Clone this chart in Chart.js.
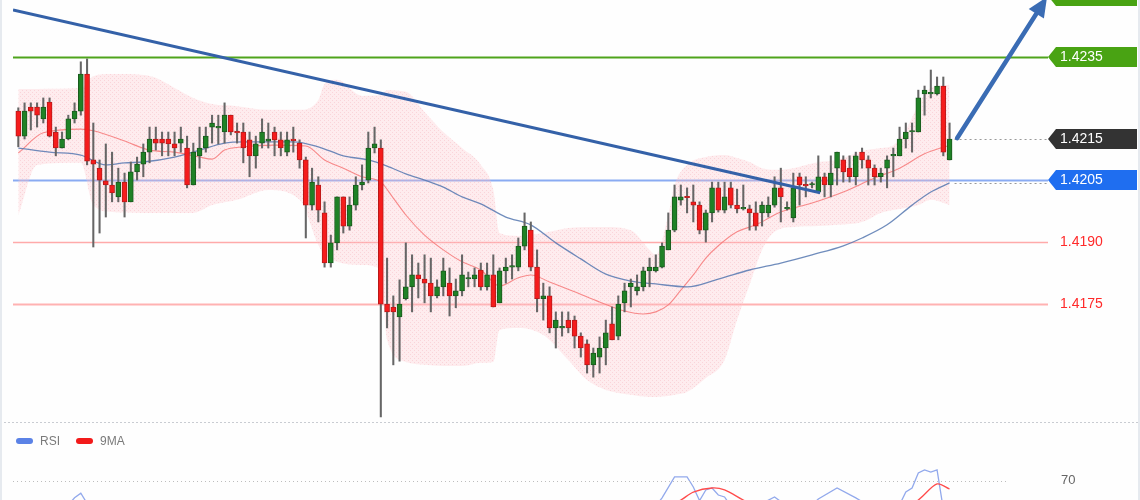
<!DOCTYPE html>
<html><head><meta charset="utf-8">
<script src="https://cdn.jsdelivr.net/npm/chart.js@4.4.1/dist/chart.umd.min.js"></script>
<style>
html,body{margin:0;padding:0;background:#fff;}
#wrap{position:relative;width:1140px;height:500px;overflow:hidden;background:#fefefe;}
#main{position:absolute;left:0;top:0;}
#rsi{position:absolute;left:0;top:423px;}
.edge{position:absolute;top:0;width:2px;height:500px;background:#e6eaef;}
</style></head><body>
<div id="wrap">
<canvas id="main" width="1140" height="423"></canvas>
<canvas id="rsi" width="1140" height="77"></canvas>
<div class="edge" style="left:0"></div><div class="edge" style="left:1138px"></div>
</div>
<script>
// ---- candle data (OHLC) ----
const opens = [1.42219,1.42158,1.42229,1.42229,1.42200,1.42241,1.42168,1.42129,1.42151,1.42200,
1.42219,1.42309,1.42100,1.42080,1.42049,1.42039,1.42010,1.42046,1.41998,1.42071,
1.42090,1.42119,1.42151,1.42151,1.42151,1.42139,1.42141,1.42129,1.42039,1.42110,
1.42129,1.42180,1.42178,1.42168,1.42209,1.42168,1.42168,1.42149,1.42110,1.42141,
1.42146,1.42168,1.42149,1.42119,1.42149,1.42141,1.42100,1.41990,1.42039,1.41971,
1.41849,1.41898,1.42010,1.41939,1.41990,1.42039,1.42051,1.42129,1.42129,1.41749,
1.41742,1.41718,1.41762,1.41791,1.41820,1.41810,1.41800,1.41769,1.41791,1.41800,
1.41769,1.41781,1.41810,1.41810,1.41832,1.41791,1.41820,1.41752,1.41830,1.41839,
1.41839,1.41890,1.41929,1.41839,1.41762,1.41769,1.41691,1.41691,1.41710,1.41710,
1.41671,1.41652,1.41601,1.41620,1.41642,1.41701,1.41671,1.41752,1.41791,1.41781,
1.41791,1.41830,1.41830,1.41839,1.41881,1.41929,1.42002,1.42010,1.41998,1.41990,
1.41929,1.41971,1.42032,1.41978,1.42032,1.41990,1.41981,1.41981,1.41971,1.41971,
1.41971,1.41990,1.42032,1.41981,1.41959,1.42059,1.42039,1.42039,1.42022,1.42059,
1.42039,1.42080,1.42100,1.42080,1.42059,1.42119,1.42100,1.42080,1.42059,1.42080,
1.42110,1.42110,1.42151,1.42168,1.42168,1.42261,1.42261,1.42261,1.42280,1.42100];
const highs = [1.42227,1.42239,1.42239,1.42239,1.42251,1.42251,1.42180,1.42168,1.42209,1.42239,
1.42339,1.42346,1.42190,1.42100,1.42139,1.42119,1.42080,1.42068,1.42095,1.42107,
1.42139,1.42180,1.42180,1.42168,1.42168,1.42168,1.42180,1.42158,1.42141,1.42180,
1.42180,1.42209,1.42209,1.42239,1.42209,1.42190,1.42190,1.42168,1.42158,1.42200,
1.42190,1.42180,1.42168,1.42168,1.42180,1.42149,1.42107,1.42080,1.42059,1.41998,
1.41917,1.42010,1.42010,1.42010,1.42059,1.42088,1.42168,1.42180,1.42149,1.41861,
1.41769,1.41808,1.41898,1.41869,1.41849,1.41869,1.41861,1.41808,1.41861,1.41837,
1.41810,1.41869,1.41827,1.41837,1.41849,1.41849,1.41869,1.41837,1.41861,1.41869,
1.41910,1.41971,1.41949,1.41881,1.41800,1.41791,1.41730,1.41730,1.41730,1.41720,
1.41679,1.41662,1.41642,1.41669,1.41710,1.41742,1.41769,1.41800,1.41810,1.41820,
1.41839,1.41861,1.41869,1.41898,1.41971,1.42039,1.42039,1.42032,1.42039,1.41998,
1.41978,1.42046,1.42046,1.42046,1.42046,1.42029,1.42039,1.41990,1.41998,1.41998,
1.42010,1.42059,1.42080,1.41998,1.42068,1.42068,1.42059,1.42046,1.42110,1.42068,
1.42110,1.42119,1.42110,1.42110,1.42119,1.42129,1.42110,1.42088,1.42080,1.42110,
1.42129,1.42180,1.42190,1.42190,1.42270,1.42280,1.42319,1.42302,1.42302,1.42190];
const lows = [1.42132,1.42151,1.42173,1.42180,1.42190,1.42156,1.42110,1.42129,1.42149,1.42190,
1.42209,1.42088,1.41888,1.41922,1.41961,1.41998,1.41998,1.41961,1.41998,1.42051,
1.42059,1.42093,1.42124,1.42110,1.42110,1.42110,1.42119,1.42032,1.42039,1.42080,
1.42119,1.42141,1.42139,1.42141,1.42161,1.42141,1.42093,1.42059,1.42080,1.42129,
1.42129,1.42110,1.42110,1.42110,1.42119,1.42080,1.41910,1.41978,1.41949,1.41839,
1.41839,1.41881,1.41922,1.41929,1.41978,1.42027,1.42044,1.42117,1.41474,1.41691,
1.41601,1.41610,1.41759,1.41730,1.41764,1.41752,1.41730,1.41764,1.41769,1.41720,
1.41740,1.41769,1.41791,1.41791,1.41783,1.41783,1.41742,1.41752,1.41800,1.41810,
1.41830,1.41881,1.41830,1.41730,1.41710,1.41679,1.41642,1.41671,1.41679,1.41642,
1.41620,1.41581,1.41571,1.41581,1.41601,1.41662,1.41662,1.41730,1.41742,1.41771,
1.41781,1.41791,1.41827,1.41837,1.41881,1.41925,1.41990,1.41971,1.41949,1.41920,
1.41900,1.41949,1.41973,1.41971,1.41983,1.41971,1.41978,1.41929,1.41929,1.41939,
1.41961,1.41985,1.41949,1.41978,1.41949,1.41990,1.42010,1.42032,1.42022,1.42010,
1.42010,1.42039,1.42046,1.42046,1.42039,1.42080,1.42039,1.42039,1.42046,1.42032,
1.42059,1.42110,1.42129,1.42119,1.42168,1.42209,1.42251,1.42258,1.42110,1.42100];
const closes = [1.42158,1.42219,1.42219,1.42209,1.42229,1.42158,1.42129,1.42151,1.42200,1.42219,
1.42309,1.42097,1.42090,1.42051,1.42039,1.42020,1.42046,1.41998,1.42071,1.42090,
1.42119,1.42151,1.42141,1.42141,1.42139,1.42129,1.42151,1.42039,1.42119,1.42129,
1.42158,1.42190,1.42180,1.42209,1.42168,1.42166,1.42129,1.42110,1.42139,1.42168,
1.42151,1.42149,1.42129,1.42149,1.42147,1.42100,1.41990,1.42046,1.41978,1.41849,
1.41898,1.42010,1.41939,1.41990,1.42039,1.42046,1.42129,1.42139,1.41749,1.41730,
1.41730,1.41749,1.41791,1.41820,1.41810,1.41800,1.41769,1.41791,1.41830,1.41769,
1.41781,1.41820,1.41812,1.41820,1.41791,1.41820,1.41742,1.41830,1.41839,1.41841,
1.41890,1.41939,1.41839,1.41762,1.41769,1.41691,1.41710,1.41693,1.41691,1.41671,
1.41642,1.41601,1.41630,1.41642,1.41679,1.41662,1.41749,1.41781,1.41800,1.41791,
1.41830,1.41839,1.41839,1.41890,1.41929,1.42010,1.42010,1.42008,1.41990,1.41929,
1.41971,1.42032,1.41978,1.42010,1.41990,1.41981,1.41983,1.41971,1.41939,1.41990,
1.41990,1.42032,1.42010,1.41983,1.42032,1.42039,1.42037,1.42041,1.42059,1.42039,
1.42068,1.42119,1.42071,1.42059,1.42110,1.42100,1.42080,1.42059,1.42068,1.42100,
1.42112,1.42151,1.42168,1.42170,1.42251,1.42270,1.42263,1.42280,1.42119,1.42151];

// ---- Bollinger band (read at sample candles) ----
const bandIdx = [0,3,10,12,15,20,22,25,28,31,35,40,45,48,49,51,55,58,59,62,65,68,71,74,76,77,80,84,88,91,94,98,101,102,104,105,107,110,113,115,117,119,121,124,128,131,135,138,140,142,144,146,149];
const bandUpper = [1.42273,1.42273,1.42275,1.42304,1.42309,1.42307,1.42300,1.42275,1.42251,1.42236,
1.42231,1.42222,1.42222,1.42246,1.42285,1.42295,1.42256,1.42258,1.42270,1.42266,
1.42217,1.42168,1.42129,1.42088,1.42027,1.41922,1.41915,1.41922,1.41934,1.41937,
1.41937,1.41929,1.41881,1.41869,1.41966,1.42039,1.42088,1.42107,1.42112,1.42105,
1.42095,1.42080,1.42076,1.42080,1.42095,1.42100,1.42122,1.42129,1.42136,1.42173,
1.42234,1.42275,1.42283];
const bandLower = [1.41966,1.42088,1.42093,1.41990,1.41973,1.41971,1.41971,1.41971,1.41971,1.41990,
1.42003,1.42027,1.42003,1.41893,1.41869,1.41852,1.41844,1.41832,1.41662,1.41608,
1.41601,1.41598,1.41598,1.41606,1.41608,1.41686,1.41691,1.41674,1.41613,1.41564,
1.41540,1.41528,1.41523,1.41523,1.41525,1.41528,1.41535,1.41569,1.41613,1.41710,
1.41796,1.41881,1.41925,1.41937,1.41939,1.41942,1.41949,1.41971,1.41978,1.41983,
1.41990,1.42003,1.41990];

// ---- moving averages ----
const maRedIdx = [0,4,10,12,17,21,25,29,31,33,36,41,46,49,52,55,58,60,62,65,68,71,74,77,80,82,85,89,93,97,100,102,104,106,108,110,112,115,118,122,127,132,137,141,145,149];
const maRedVal = [1.42117,1.42166,1.42175,1.42171,1.42146,1.42124,1.42119,1.42107,1.42102,1.42124,
1.42132,1.42136,1.42134,1.42100,1.42080,1.42059,1.42046,1.42007,1.41966,1.41917,
1.41881,1.41852,1.41832,1.41793,1.41813,1.41820,1.41803,1.41779,1.41754,1.41732,
1.41725,1.41730,1.41747,1.41783,1.41820,1.41861,1.41891,1.41925,1.41942,1.41973,
1.41995,1.42022,1.42056,1.42080,1.42115,1.42136];
const maBlueIdx = [0,5,10,14,17,20,25,29,33,36,44,48,52,56,59,62,65,68,71,74,78,82,86,90,94,98,102,107,112,117,122,127,132,135,139,143,146,149];
const maBlueVal = [1.42129,1.42119,1.42112,1.42088,1.42093,1.42095,1.42107,1.42124,1.42141,1.42144,
1.42144,1.42132,1.42110,1.42100,1.42085,1.42066,1.42051,1.42034,1.42010,1.41993,
1.41961,1.41942,1.41898,1.41859,1.41822,1.41805,1.41798,1.41791,1.41810,1.41832,
1.41849,1.41869,1.41891,1.41910,1.41942,1.41990,1.42022,1.42044];

// ---- drawn analysis ----
const trendX = [-0.85, 128.3];
const trendY = [1.42465, 1.42020];
const arrowX = [150.2, 164.6];
const arrowY = [1.42153, 1.42497];
const levelPrices = [1.4250, 1.4235, 1.4215, 1.4205, 1.4190, 1.4175];
const levelLabels = ['1.4250', '1.4235', '1.4215', '1.4205', '1.4190', '1.4175'];

// ---- RSI panel ----
const rsiIdx = [0,8,9,10,11,14,100,102,103,105,107,108,109,110,111,112,113,114,119,121,123,127,128,131,134,137,141,142,143,144,145,146,147,148,149];
const rsiVal = [48,53,58,61.3,54,48,48,52,58,72.9,72.9,65.7,56,63.6,65,60,58.6,52,54,58.6,52,53,57.1,65,57.9,50,53,62.1,65,75.7,77.9,76.4,77.9,50,46];
const ma9Idx = [100,103,106,108,111,113,116,119,138,142,144,147,149];
const ma9Val = [48,50,56.4,62.1,65,63.6,56.4,50,48,52,56.4,67.9,64.3];
const rsiLevels = [70];
const rsiLegend = ['RSI', '9MA'];

const candleIdx = opens.map((_, i) => i);
const pts = (xs, ys) => xs.map((x, k) => ({x: x, y: ys[k]}));

const mainCanvas = document.getElementById('main');
const mctx = mainCanvas.getContext('2d');
function makePattern() {
  const c = document.createElement('canvas'); c.width = 4; c.height = 4;
  const g = c.getContext('2d');
  g.fillStyle = 'rgba(255,196,202,0.30)'; g.fillRect(0, 0, 4, 4);
  g.fillStyle = 'rgba(240,150,160,0.28)'; g.fillRect(0, 0, 1, 1); g.fillRect(2, 2, 1, 1);
  return mctx.createPattern(c, 'repeat');
}

const GREEN = '#1f8226', GREEN_B = '#1a5a1e', RED = '#f51c1c', RED_B = '#b81a1a';
const FONT = '"Liberation Sans", Arial, sans-serif';

const mainPlugin = {
  id: 'mainDecor',
  beforeDatasetsDraw(chart) {
    const {ctx, chartArea: a, scales: {x, y}} = chart;
    ctx.save();
    const hline = (p, color, w) => {
      const py = Math.round(y.getPixelForValue(p)) + 0.5;
      ctx.strokeStyle = color; ctx.lineWidth = w;
      ctx.beginPath(); ctx.moveTo(a.left, py); ctx.lineTo(a.right, py); ctx.stroke();
    };
    hline(levelPrices[1], '#4fa41c', 2.2);
    hline(levelPrices[3], '#8aabf2', 2.2);
    hline(levelPrices[4], '#ffaaaa', 1.4);
    hline(levelPrices[5], '#ffb2b2', 2);
    // dotted projections from the last candle
    const lastX = x.getPixelForValue(candleIdx[candleIdx.length - 1]) + 5;
    ctx.setLineDash([2, 3]); ctx.lineWidth = 1; ctx.strokeStyle = '#9a9a9a';
    [levelPrices[2], maBlueVal[maBlueVal.length - 1]].forEach(p => {
      const py = Math.round(y.getPixelForValue(p)) + 0.5;
      ctx.beginPath(); ctx.moveTo(lastX, py); ctx.lineTo(a.right, py); ctx.stroke();
    });
    ctx.restore();
  },
  afterDatasetsDraw(chart) {
    const {ctx, scales: {x, y}} = chart;
    const x0 = x.getPixelForValue(arrowX[0]), y0 = y.getPixelForValue(arrowY[0]);
    const x1 = x.getPixelForValue(arrowX[1]), y1 = y.getPixelForValue(arrowY[1]);
    const ang = Math.atan2(y1 - y0, x1 - x0), L = 20, W = 9;
    const bx = x1 - L * Math.cos(ang), by = y1 - L * Math.sin(ang);
    ctx.save();
    ctx.strokeStyle = '#3a6cb4'; ctx.fillStyle = '#3a6cb4'; ctx.lineWidth = 4.5; ctx.lineCap = 'round';
    ctx.beginPath(); ctx.moveTo(x0, y0); ctx.lineTo(bx, by); ctx.stroke();
    ctx.beginPath(); ctx.moveTo(x1, y1);
    ctx.lineTo(bx + W * Math.sin(ang), by - W * Math.cos(ang));
    ctx.lineTo(bx - W * Math.sin(ang), by + W * Math.cos(ang));
    ctx.closePath(); ctx.fill();
    ctx.restore();
  },
  afterDraw(chart) {
    const {ctx, chartArea: a, scales: {y}} = chart;
    const W = chart.width;
    ctx.save();
    ctx.font = '14px ' + FONT; ctx.textBaseline = 'middle';
    const tag = (i, bg) => {
      const py = Math.round(y.getPixelForValue(levelPrices[i]));
      ctx.fillStyle = bg;
      ctx.beginPath(); ctx.moveTo(a.right, py); ctx.lineTo(a.right + 8, py - 10); ctx.lineTo(W - 3, py - 10);
      ctx.lineTo(W - 3, py + 10); ctx.lineTo(a.right + 8, py + 10); ctx.closePath(); ctx.fill();
      ctx.fillStyle = '#ffffff'; ctx.fillText(levelLabels[i], a.right + 12, py);
    };
    tag(0, '#49a313'); tag(1, '#49a313'); tag(2, '#333333'); tag(3, '#1f6ef0');
    ctx.fillStyle = '#ff2a2a';
    [4, 5].forEach(i => ctx.fillText(levelLabels[i], a.right + 12, Math.round(y.getPixelForValue(levelPrices[i]))));
    // panel separator
    ctx.strokeStyle = '#c9ccd2'; ctx.lineWidth = 1; ctx.setLineDash([2, 2]);
    ctx.beginPath(); ctx.moveTo(0, chart.height - 0.5); ctx.lineTo(W, chart.height - 0.5); ctx.stroke();
    ctx.restore();
  }
};

new Chart(mctx, {
  type: 'bar',
  data: {
    datasets: [
      {type: 'line', data: pts(bandIdx, bandUpper), borderWidth: 0, borderColor: 'rgba(0,0,0,0)', pointRadius: 0,
       fill: '+1', backgroundColor: makePattern(), cubicInterpolationMode: 'monotone', order: 20},
      {type: 'line', data: pts(bandIdx, bandLower), borderWidth: 0, borderColor: 'rgba(0,0,0,0)', pointRadius: 0,
       fill: false, cubicInterpolationMode: 'monotone', order: 20},
      {type: 'line', data: pts(maRedIdx, maRedVal), borderColor: 'rgba(246,120,120,0.85)', borderWidth: 1.1,
       pointRadius: 0, fill: false, cubicInterpolationMode: 'monotone', order: 15},
      {type: 'line', data: pts(maBlueIdx, maBlueVal), borderColor: 'rgba(86,120,176,0.85)', borderWidth: 1.3,
       pointRadius: 0, fill: false, cubicInterpolationMode: 'monotone', order: 14},
      {type: 'bar', data: candleIdx.map(i => ({x: i, y: [lows[i], highs[i]]})), backgroundColor: '#666666',
       barThickness: 1.4, grouped: false, order: 8},
      {type: 'bar', data: candleIdx.map(i => ({x: i, y: [opens[i], closes[i]]})),
       backgroundColor: candleIdx.map(i => closes[i] >= opens[i] ? GREEN : RED),
       borderColor: candleIdx.map(i => closes[i] >= opens[i] ? GREEN_B : RED_B),
       borderWidth: 1, borderSkipped: false, barThickness: 5, minBarLength: 1.5, grouped: false, order: 7},
      {type: 'line', data: pts(trendX, trendY), borderColor: '#3461a8', borderWidth: 3, pointRadius: 0,
       fill: false, tension: 0, order: 1}
    ]
  },
  options: {
    responsive: false, animation: false, devicePixelRatio: 1, events: [],
    layout: {padding: {left: 13, right: 92, top: 0, bottom: 2}},
    plugins: {legend: {display: false}, tooltip: {enabled: false}},
    scales: {
      x: {type: 'linear', min: -0.85, max: 164.75, display: false, offset: false},
      y: {type: 'linear', min: 1.414643, max: 1.424895, display: false}
    }
  },
  plugins: [mainPlugin]
});

const rsiPlugin = {
  id: 'rsiDecor',
  afterDraw(chart) {
    const {ctx, chartArea: a, scales: {y}} = chart;
    ctx.save();
    ctx.font = '12px ' + FONT; ctx.textBaseline = 'middle';
    const ly = 18;
    const box = (x0, c) => { ctx.fillStyle = c; ctx.beginPath(); ctx.roundRect(x0, ly - 3, 17, 6, 3); ctx.fill(); };
    box(16, '#5b82e6'); box(76, '#f21a1a');
    ctx.fillStyle = '#7a7a7a';
    ctx.fillText(rsiLegend[0], 40, ly + 1); ctx.fillText(rsiLegend[1], 100, ly + 1);
    rsiLevels.forEach(v => {
      const py = Math.round(y.getPixelForValue(v)) + 0.5;
      ctx.strokeStyle = '#bdbdbd'; ctx.lineWidth = 1; ctx.setLineDash([1, 3]);
      ctx.beginPath(); ctx.moveTo(a.left, py); ctx.lineTo(1007, py); ctx.stroke();
      ctx.setLineDash([]);
      ctx.fillStyle = '#666'; ctx.font = '13px ' + FONT;
      ctx.fillText(String(v), 1061, py - 1);
    });
    ctx.restore();
  }
};

new Chart(document.getElementById('rsi').getContext('2d'), {
  type: 'line',
  data: {
    datasets: [
      {data: pts(ma9Idx, ma9Val), borderColor: '#ff4b4b', borderWidth: 1.3, pointRadius: 0, tension: 0.3, fill: false},
      {data: pts(rsiIdx, rsiVal), borderColor: '#92a9ec', borderWidth: 1.3, pointRadius: 0, tension: 0, fill: false}
    ]
  },
  options: {
    responsive: false, animation: false, devicePixelRatio: 1, events: [],
    layout: {padding: {left: 13, right: 92, top: 0, bottom: 0}},
    plugins: {legend: {display: false}, tooltip: {enabled: false}},
    scales: {
      x: {type: 'linear', min: -0.85, max: 164.75, display: false},
      y: {type: 'linear', min: 56.43, max: 111.43, display: false}
    }
  },
  plugins: [rsiPlugin]
});
</script>
</body></html>
